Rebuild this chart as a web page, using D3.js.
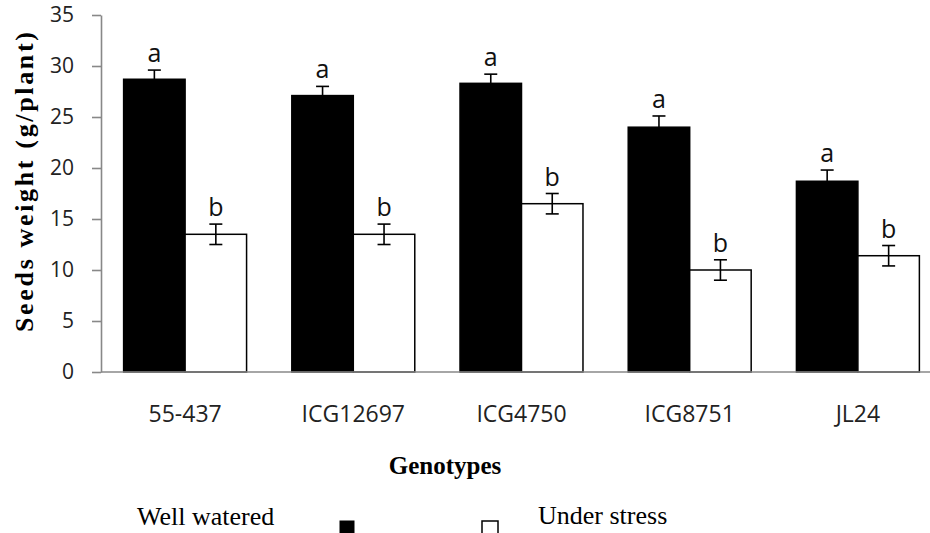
<!DOCTYPE html>
<html>
<head>
<meta charset="utf-8">
<script src="https://cdn.jsdelivr.net/npm/d3@7"></script>
<style>
  html, body { margin: 0; padding: 0; background: #fff; }
  svg { display: block; }
</style>
</head>
<body>
<svg id="chart" width="930" height="533"></svg>
<script>
const genotypes = ["55-437", "ICG12697", "ICG4750", "ICG8751", "JL24"];
const seriesNames = ["Well watered", "Under stress"];
const wellWatered = [28.7, 27.1, 28.3, 24.0, 18.7];
const wellWateredErr = [0.9, 0.9, 0.9, 1.1, 1.1];
const underStress = [13.5, 13.5, 16.5, 10.0, 11.4];
const underStressErr = [1.0, 1.0, 1.0, 1.0, 1.0];
const wellWateredLetters = ["a", "a", "a", "a", "a"];
const underStressLetters = ["b", "b", "b", "b", "b"];
const yTicks = [0, 5, 10, 15, 20, 25, 30, 35];

(function () {
const svg = d3.select("#chart");
const mLeft = 101, mRight = 942, mTop = 15, mBottom = 372;

const x = d3.scaleBand().domain(genotypes).range([mLeft, mRight])
  .paddingInner(0.269).paddingOuter(0.1345);
const xs = d3.scaleBand().domain(seriesNames).range([0, x.bandwidth()]);
const y = d3.scaleLinear().domain([0, 35]).range([mBottom, mTop]);

const data = [];
genotypes.forEach((g, i) => {
  data.push({g, s: seriesNames[0], v: wellWatered[i], e: wellWateredErr[i], l: wellWateredLetters[i]});
  data.push({g, s: seriesNames[1], v: underStress[i], e: underStressErr[i], l: underStressLetters[i]});
});
const fill = d3.scaleOrdinal().domain(seriesNames).range(["#000", "#fff"]);

// bars
svg.append("g").selectAll("rect").data(data).join("rect")
  .attr("x", d => x(d.g) + xs(d.s))
  .attr("y", d => y(d.v))
  .attr("width", xs.bandwidth())
  .attr("height", d => y(0) - y(d.v))
  .attr("fill", d => fill(d.s))
  .attr("stroke", "#000")
  .attr("stroke-width", 1.5);

// error bars
const eb = svg.append("g").attr("stroke", "#000").attr("stroke-width", 1.6);
data.forEach(d => {
  const cx = x(d.g) + xs(d.s) + xs.bandwidth() / 2;
  eb.append("line").attr("x1", cx).attr("x2", cx).attr("y1", y(d.v + d.e)).attr("y2", y(d.v - d.e));
  eb.append("line").attr("x1", cx - 6.5).attr("x2", cx + 6.5).attr("y1", y(d.v + d.e)).attr("y2", y(d.v + d.e));
  eb.append("line").attr("x1", cx - 6.5).attr("x2", cx + 6.5).attr("y1", y(d.v - d.e)).attr("y2", y(d.v - d.e));
});

// letters
svg.append("g").selectAll("text").data(data).join("text")
  .attr("x", d => x(d.g) + xs(d.s) + xs.bandwidth() / 2)
  .attr("y", d => y(d.v + d.e) - 8)
  .attr("text-anchor", "middle")
  .attr("font-family", "Open Sans")
  .attr("font-size", 25)
  .attr("fill", "#111")
  .text(d => d.l);

// y axis
const yAxis = svg.append("g").attr("transform", `translate(${mLeft},0)`)
  .call(d3.axisLeft(y).tickValues(yTicks).tickSize(9).tickPadding(18).tickSizeOuter(0));
yAxis.select(".domain").attr("stroke", "#888").attr("stroke-width", 1.6);
yAxis.selectAll(".tick line").attr("stroke", "#888").attr("stroke-width", 1.6);
yAxis.selectAll(".tick text").attr("font-family", "Open Sans").attr("font-size", 21).attr("fill", "#222");

// x axis
const xAxis = svg.append("g").attr("transform", `translate(0,${mBottom})`)
  .call(d3.axisBottom(x).tickSize(0).tickPadding(0).tickSizeOuter(0));
xAxis.select(".domain").attr("stroke", "#888").attr("stroke-width", 1.6)
  .attr("d", `M${mLeft},0H930`);
xAxis.selectAll(".tick text").attr("font-family", "Open Sans").attr("font-size", 23)
  .attr("fill", "#222").attr("dy", null).attr("y", 50);

// axis titles
svg.append("text")
  .attr("transform", "translate(33,182) rotate(-90)")
  .attr("text-anchor", "middle")
  .attr("font-family", "Liberation Serif")
  .attr("font-weight", "bold")
  .attr("font-size", 26)
  .attr("textLength", 300)
  .attr("lengthAdjust", "spacing")
  .text("Seeds weight (g/plant)");

svg.append("text")
  .attr("x", 445).attr("y", 474)
  .attr("text-anchor", "middle")
  .attr("font-family", "Liberation Serif")
  .attr("font-weight", "bold")
  .attr("font-size", 25)
  .text("Genotypes");

// legend
const legend = svg.append("g");
legend.append("text").attr("x", 137).attr("y", 525)
  .attr("font-family", "Liberation Serif").attr("font-size", 26).text(seriesNames[0]);
legend.append("rect").attr("x", 340).attr("y", 521).attr("width", 14).attr("height", 30)
  .attr("fill", fill(seriesNames[0])).attr("stroke", "#000").attr("stroke-width", 1);
legend.append("rect").attr("x", 482).attr("y", 521).attr("width", 16).attr("height", 30)
  .attr("fill", fill(seriesNames[1])).attr("stroke", "#000").attr("stroke-width", 1.5);
legend.append("text").attr("x", 538).attr("y", 524)
  .attr("font-family", "Liberation Serif").attr("font-size", 26).text(seriesNames[1]);
})();
</script>
</body>
</html>
